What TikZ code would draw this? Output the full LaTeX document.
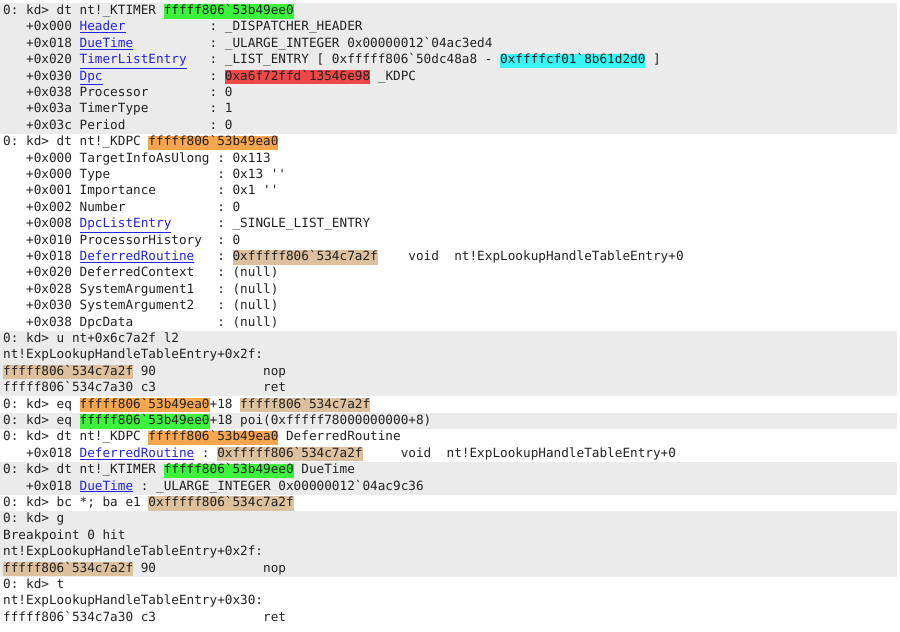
\documentclass[tikz,border=0pt]{standalone}
\usepackage{fontspec}
\setmonofont{DejaVu Sans Mono}
\usetikzlibrary{calc}

\definecolor{bandgray}{HTML}{EBEBEB}
\definecolor{txtgray}{HTML}{222222}
\definecolor{lnkblue}{HTML}{2323E6}
\definecolor{gr}{HTML}{3DF23D}
\definecolor{or}{HTML}{F8A550}
\definecolor{tn}{HTML}{DDC09E}
\definecolor{rd}{HTML}{F04848}
\definecolor{cy}{HTML}{3AF5F5}

\newcommand\mono{\fontsize{12.7}{15}\selectfont\ttfamily}
\newlength\cw
\newcommand\fw[2]{\makebox[#1\cw][l]{#2}}
\newcommand\ind{\hspace*{3\cw}}
\newcommand\lnk[1]{\textcolor{lnkblue}{\underline{#1}}}
\newcommand\hl[2]{{\setlength\fboxsep{0pt}\colorbox{#1}{\rule[-4pt]{0pt}{13pt}#2}}}

\begin{document}
\settowidth{\cw}{\mono 0}
\begin{tikzpicture}[x=1pt, y=-16.4pt,
  ln/.style={anchor=base west, inner sep=0pt, font=\mono, text=txtgray},
  band/.style={fill=bandgray}]
  \useasboundingbox (0,0.116) rectangle (900,38.65);
  % shaded command blocks
  \foreach \a/\b in {1/8, 21/24, 26/26, 29/30, 32/35}
    \fill[band] (0,\a-0.73) rectangle (897,\b+0.27);
  % KTIMER
  \node[ln] (l1) at (3,1) {0: kd> dt nt!\_KTIMER \hl{gr}{fffff806`53b49ee0}};
  \node[ln] (l2) at (3,2) {\ind+0x000 \fw{17}{\lnk{Header}}: \_DISPATCHER\_HEADER};
  \node[ln] (l3) at (3,3) {\ind+0x018 \fw{17}{\lnk{DueTime}}: \_ULARGE\_INTEGER 0x00000012`04ac3ed4};
  \node[ln] (l4) at (3,4) {\ind+0x020 \fw{17}{\lnk{TimerListEntry}}: \_LIST\_ENTRY [ 0xfffff806`50dc48a8 - \hl{cy}{0xffffcf01`8b61d2d0} ]};
  \node[ln] (l5) at (3,5) {\ind+0x030 \fw{17}{\lnk{Dpc}}: \hl{rd}{0xa6f72ffd`13546e98} \_KDPC};
  \node[ln] (l6) at (3,6) {\ind+0x038 \fw{17}{Processor}: 0};
  \node[ln] (l7) at (3,7) {\ind+0x03a \fw{17}{TimerType}: 1};
  \node[ln] (l8) at (3,8) {\ind+0x03c \fw{17}{Period}: 0};
  % KDPC
  \node[ln] (l9) at (3,9) {0: kd> dt nt!\_KDPC \hl{or}{fffff806`53b49ea0}};
  \node[ln] (l10) at (3,10) {\ind+0x000 \fw{18}{TargetInfoAsUlong}: 0x113};
  \node[ln] (l11) at (3,11) {\ind+0x000 \fw{18}{Type}: 0x13 ''};
  \node[ln] (l12) at (3,12) {\ind+0x001 \fw{18}{Importance}: 0x1 ''};
  \node[ln] (l13) at (3,13) {\ind+0x002 \fw{18}{Number}: 0};
  \node[ln] (l14) at (3,14) {\ind+0x008 \fw{18}{\lnk{DpcListEntry}}: \_SINGLE\_LIST\_ENTRY};
  \node[ln] (l15) at (3,15) {\ind+0x010 \fw{18}{ProcessorHistory}: 0};
  \node[ln] (l16) at (3,16) {\ind+0x018 \fw{18}{\lnk{DeferredRoutine}}: \hl{tn}{0xfffff806`534c7a2f}\hspace*{4\cw}void~~nt!ExpLookupHandleTableEntry+0};
  \node[ln] (l17) at (3,17) {\ind+0x020 \fw{18}{DeferredContext}: (null)};
  \node[ln] (l18) at (3,18) {\ind+0x028 \fw{18}{SystemArgument1}: (null)};
  \node[ln] (l19) at (3,19) {\ind+0x030 \fw{18}{SystemArgument2}: (null)};
  \node[ln] (l20) at (3,20) {\ind+0x038 \fw{18}{DpcData}: (null)};
  % disassembly and patch
  \node[ln] (l21) at (3,21) {0: kd> u nt+0x6c7a2f l2};
  \node[ln] (l22) at (3,22) {nt!ExpLookupHandleTableEntry+0x2f:};
  \node[ln] (l23) at (3,23) {\fw{34}{\hl{tn}{fffff806`534c7a2f} 90}nop};
  \node[ln] (l24) at (3,24) {\fw{34}{fffff806`534c7a30 c3}ret};
  \node[ln] (l25) at (3,25) {0: kd> eq \hl{or}{fffff806`53b49ea0}+18 \hl{tn}{fffff806`534c7a2f}};
  \node[ln] (l26) at (3,26) {0: kd> eq \hl{gr}{fffff806`53b49ee0}+18 poi(0xfffff78000000000+8)};
  \node[ln] (l27) at (3,27) {0: kd> dt nt!\_KDPC \hl{or}{fffff806`53b49ea0} DeferredRoutine};
  \node[ln] (l28) at (3,28) {\ind+0x018 \lnk{DeferredRoutine} : \hl{tn}{0xfffff806`534c7a2f}\hspace*{5\cw}void~~nt!ExpLookupHandleTableEntry+0};
  \node[ln] (l29) at (3,29) {0: kd> dt nt!\_KTIMER \hl{gr}{fffff806`53b49ee0} DueTime};
  \node[ln] (l30) at (3,30) {\ind+0x018 \lnk{DueTime} : \_ULARGE\_INTEGER 0x00000012`04ac9c36};
  \node[ln] (l31) at (3,31) {0: kd> bc *; ba e1 \hl{tn}{0xfffff806`534c7a2f}};
  % breakpoint hit
  \node[ln] (l32) at (3,32) {0: kd> g};
  \node[ln] (l33) at (3,33) {Breakpoint 0 hit};
  \node[ln] (l34) at (3,34) {nt!ExpLookupHandleTableEntry+0x2f:};
  \node[ln] (l35) at (3,35) {\fw{34}{\hl{tn}{fffff806`534c7a2f} 90}nop};
  \node[ln] (l36) at (3,36) {0: kd> t};
  \node[ln] (l37) at (3,37) {nt!ExpLookupHandleTableEntry+0x30:};
  \node[ln] (l38) at (3,38) {\fw{34}{fffff806`534c7a30 c3}ret};
\end{tikzpicture}
\end{document}
